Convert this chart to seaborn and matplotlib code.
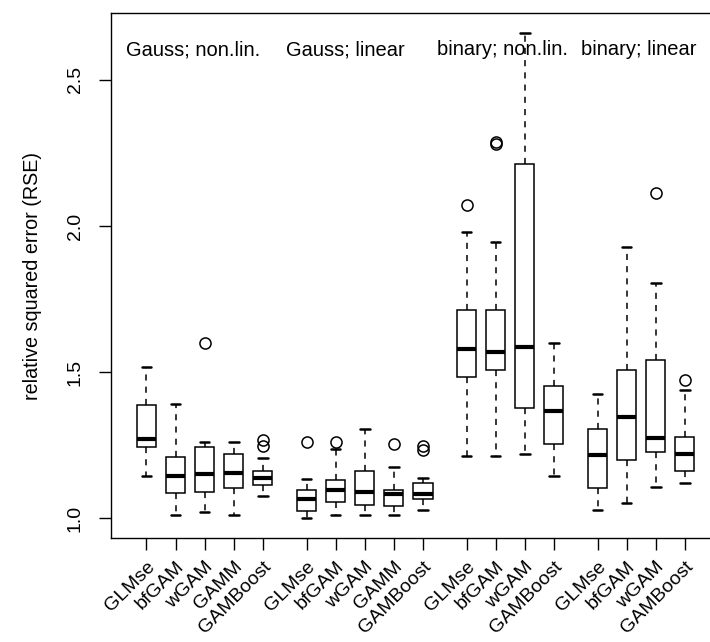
import numpy as np
import pandas as pd
import matplotlib
matplotlib.use("Agg")
import matplotlib.pyplot as plt
import seaborn as sns

# ---- data (five-number summaries) ----
methods = ["GLMse", "bfGAM", "wGAM", "GAMM", "GAMBoost",
           "GLMse", "bfGAM", "wGAM", "GAMM", "GAMBoost",
           "GLMse", "bfGAM", "wGAM", "GAMBoost",
           "GLMse", "bfGAM", "wGAM", "GAMBoost"]
positions = [1, 2, 3, 4, 5,
             6.5, 7.5, 8.5, 9.5, 10.5,
             12, 13, 14, 15,
             16.5, 17.5, 18.5, 19.5]
whislo = [1.145, 1.011, 1.022, 1.011, 1.076,
          0.999, 1.011, 1.011, 1.011, 1.028,
          1.213, 1.213, 1.219, 1.143,
          1.028, 1.052, 1.106, 1.121]
q1 = [1.243, 1.087, 1.089, 1.102, 1.112,
      1.023, 1.055, 1.046, 1.042, 1.066,
      1.483, 1.506, 1.376, 1.254,
      1.104, 1.198, 1.228, 1.162]
med = [1.270, 1.145, 1.151, 1.154, 1.136,
       1.066, 1.096, 1.088, 1.082, 1.083,
       1.578, 1.567, 1.585, 1.365,
       1.215, 1.346, 1.275, 1.220]
q3 = [1.386, 1.209, 1.245, 1.218, 1.162,
      1.095, 1.129, 1.162, 1.098, 1.119,
      1.711, 1.711, 2.211, 1.451,
      1.306, 1.508, 1.540, 1.277]
whishi = [1.516, 1.389, 1.260, 1.260, 1.205,
          1.134, 1.236, 1.306, 1.174, 1.138,
          1.981, 1.945, 2.661, 1.598,
          1.425, 1.928, 1.804, 1.438]
outliers = [[], [], [1.599], [], [1.248, 1.267],
            [1.259], [1.259], [], [1.253], [1.234, 1.248],
            [2.071], [2.281, 2.289], [], [],
            [], [], [2.114], [1.473]]
group_labels = ["Gauss; non.lin.", "Gauss; linear", "binary; non.lin.", "binary; linear"]
group_label_x = [0.29, 5.80, 11.0, 15.93]
yticks = [1.0, 1.5, 2.0, 2.5]
ylabel = "relative squared error (RSE)"

# ---- style ----
sns.set_theme(style="ticks")
plt.rcParams["font.family"] = ["Liberation Sans", "DejaVu Sans"]
plt.rcParams["text.color"] = "black"
plt.rcParams["axes.labelcolor"] = "black"
plt.rcParams["xtick.color"] = "black"
plt.rcParams["ytick.color"] = "black"

fig = plt.figure(figsize=(7.1, 6.42), dpi=100)
ax = fig.add_axes([111 / 710, 1 - 538 / 642, 600 / 710, (538 - 13) / 642])

stats = []
for i in range(len(methods)):
    stats.append(dict(label=methods[i], whislo=whislo[i], q1=q1[i], med=med[i],
                      q3=q3[i], whishi=whishi[i], fliers=outliers[i]))

ax.bxp(stats, positions=positions, widths=0.66, capwidths=0.33,
       patch_artist=True, showfliers=True,
       boxprops=dict(facecolor="white", edgecolor="black", linewidth=1.1),
       medianprops=dict(color="black", linewidth=3.0, solid_capstyle="butt"),
       whiskerprops=dict(color="black", linewidth=1.1, linestyle=(0, (4, 4))),
       capprops=dict(color="black", linewidth=1.8),
       flierprops=dict(marker="o", markersize=8, markerfacecolor="none",
                       markeredgecolor="black", markeredgewidth=1.1))

ax.set_xlim(-0.22, 20.4)
ax.set_ylim(0.932, 2.729)
ax.set_yticks(yticks)
ax.set_yticklabels([f"{t:.1f}" for t in yticks], rotation=90, va="center",
                   fontsize=14, color="black")
ax.set_xticks(positions)
ax.set_xticklabels(methods, rotation=45, ha="right", rotation_mode="anchor",
                   fontsize=14, color="black")
ax.tick_params(axis="both", direction="out", length=8.6, width=1, color="black")
ax.tick_params(axis="y", pad=11)
ax.tick_params(axis="x", pad=6)
ax.set_ylabel(ylabel, fontsize=14.2, labelpad=18, color="black")

for s in ["left", "top", "bottom"]:
    ax.spines[s].set_visible(True)
    ax.spines[s].set_color("black")
    ax.spines[s].set_linewidth(1.0)
ax.spines["right"].set_visible(False)
ax.set_facecolor("white")

for lab, x in zip(group_labels, group_label_x):
    ax.text(x, 2.603, lab, ha="left", va="center", fontsize=14.5, color="black")

fig.savefig("out.png", dpi=100, facecolor="white")
